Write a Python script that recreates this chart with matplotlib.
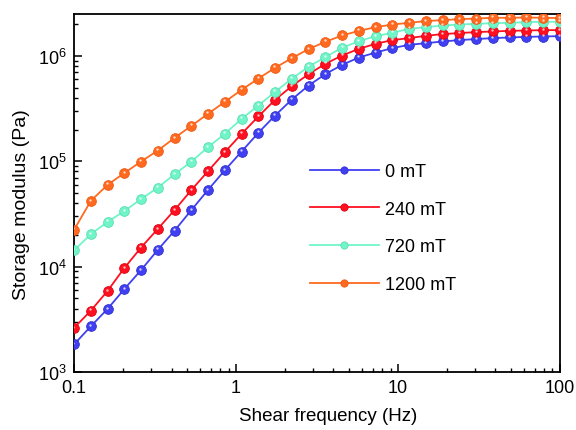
import matplotlib
matplotlib.use("Agg")
import matplotlib.pyplot as plt
import matplotlib.transforms as mtransforms

plt.rcParams['font.family'] = ['Liberation Sans', 'DejaVu Sans']
plt.rcParams['mathtext.default'] = 'regular'

freq = [0.1, 0.127, 0.161, 0.204, 0.259, 0.329, 0.418, 0.530, 0.672, 0.853,
        1.083, 1.374, 1.743, 2.212, 2.807, 3.562, 4.520, 5.736, 7.279, 9.237,
        11.72, 14.87, 18.88, 23.95, 30.39, 38.57, 48.94, 62.10, 78.80, 100.0]

g_0mT = [1824, 2716, 3963, 6095, 9247, 14420, 21980, 34360, 53460, 82220,
         123600, 186200, 271600, 385500, 523600, 671400, 822400, 966100, 1.076e6, 1.186e6,
         1.274e6, 1.321e6, 1.371e6, 1.413e6, 1.445e6, 1.476e6, 1.496e6, 1.517e6, 1.528e6, 1.542e6]

g_240mT = [2618, 3819, 5875, 9661, 15140, 22800, 34510, 53210, 80540, 121900,
           182000, 266100, 382800, 516400, 671400, 841400, 1.009e6, 1.167e6, 1.303e6, 1.413e6,
           1.476e6, 1.552e6, 1.611e6, 1.648e6, 1.683e6, 1.706e6, 1.730e6, 1.742e6, 1.758e6, 1.758e6]

g_720mT = [14260, 20320, 26610, 33570, 43650, 56230, 75340, 99310, 136100, 182000,
           252900, 338100, 456000, 606700, 788900, 975000, 1.194e6, 1.380e6, 1.542e6, 1.656e6,
           1.807e6, 1.875e6, 1.945e6, 1.986e6, 2.018e6, 2.046e6, 2.061e6, 2.094e6, 2.109e6, 2.109e6]

g_1200mT = [22340, 42070, 59700, 77090, 99310, 126500, 166700, 216800, 281800, 366400,
            476400, 609500, 770900, 952800, 1.161e6, 1.361e6, 1.563e6, 1.730e6, 1.875e6, 1.986e6,
            2.061e6, 2.143e6, 2.188e6, 2.234e6, 2.265e6, 2.301e6, 2.301e6, 2.317e6, 2.301e6, 2.286e6]

labels = ['0 mT', '240 mT', '720 mT', '1200 mT']
series = [g_0mT, g_240mT, g_720mT, g_1200mT]
colors = ['#4040F2', '#FF1020', '#70F5C8', '#FF6A20']
edge_colors = ['#3030D0', '#E00010', '#5CDDB0', '#F05A10']

fig = plt.figure(figsize=(5.76, 4.31), dpi=100)
ax = fig.add_axes([0.1285, 0.1346, 0.8435, 0.8306])

offset = mtransforms.ScaledTranslation(-0.4 / 72, 1.0 / 72, fig.dpi_scale_trans)
handles = []
for lab, ys, c, ec in zip(labels, series, colors, edge_colors):
    h, = ax.plot(freq, ys, '-o', color=c, lw=1.3, ms=7, mfc=c, mec=ec, mew=0.6,
                 label=lab, zorder=3)
    ax.plot(freq, ys, 'o', ms=1.7, color='white', alpha=0.75, mew=0,
            transform=ax.transData + offset, zorder=4)
    handles.append(h)

ax.set_xscale('log')
ax.set_yscale('log')
ax.set_xlim(0.1, 100)
ax.set_ylim(1e3, 2.5e6)

ax.set_xticks([0.1, 1, 10, 100])
ax.set_xticklabels(['0.1', '1', '10', '100'])
ax.set_yticks([1e3, 1e4, 1e5, 1e6])
ax.set_yticklabels(['$10^3$', '$10^4$', '$10^5$', '$10^6$'])

ax.tick_params(which='major', direction='in', length=5.5, width=1.1, labelsize=13,
               top=False, right=False, pad=5)
ax.tick_params(which='minor', direction='in', length=3, width=1.0,
               top=False, right=False)
ax.tick_params(axis='x', which='minor', labelbottom=False)
ax.tick_params(axis='y', which='minor', labelleft=False)
for sp in ax.spines.values():
    sp.set_linewidth(1.3)

ax.set_xlabel('Shear frequency (Hz)', fontsize=13.5, labelpad=8)
ax.set_ylabel('Storage modulus (Pa)', fontsize=14, labelpad=6)
ax.xaxis.label.set_x(0.523)
ax.yaxis.label.set_y(0.469)

leg = ax.legend(handles=handles, loc='upper left', bbox_to_anchor=(0.485, 0.584),
                frameon=False, fontsize=13, handlelength=3.85, handletextpad=0.3,
                labelspacing=1.15, markerscale=0.75, borderpad=0, borderaxespad=0)

fig.savefig('out.png', dpi=100)
